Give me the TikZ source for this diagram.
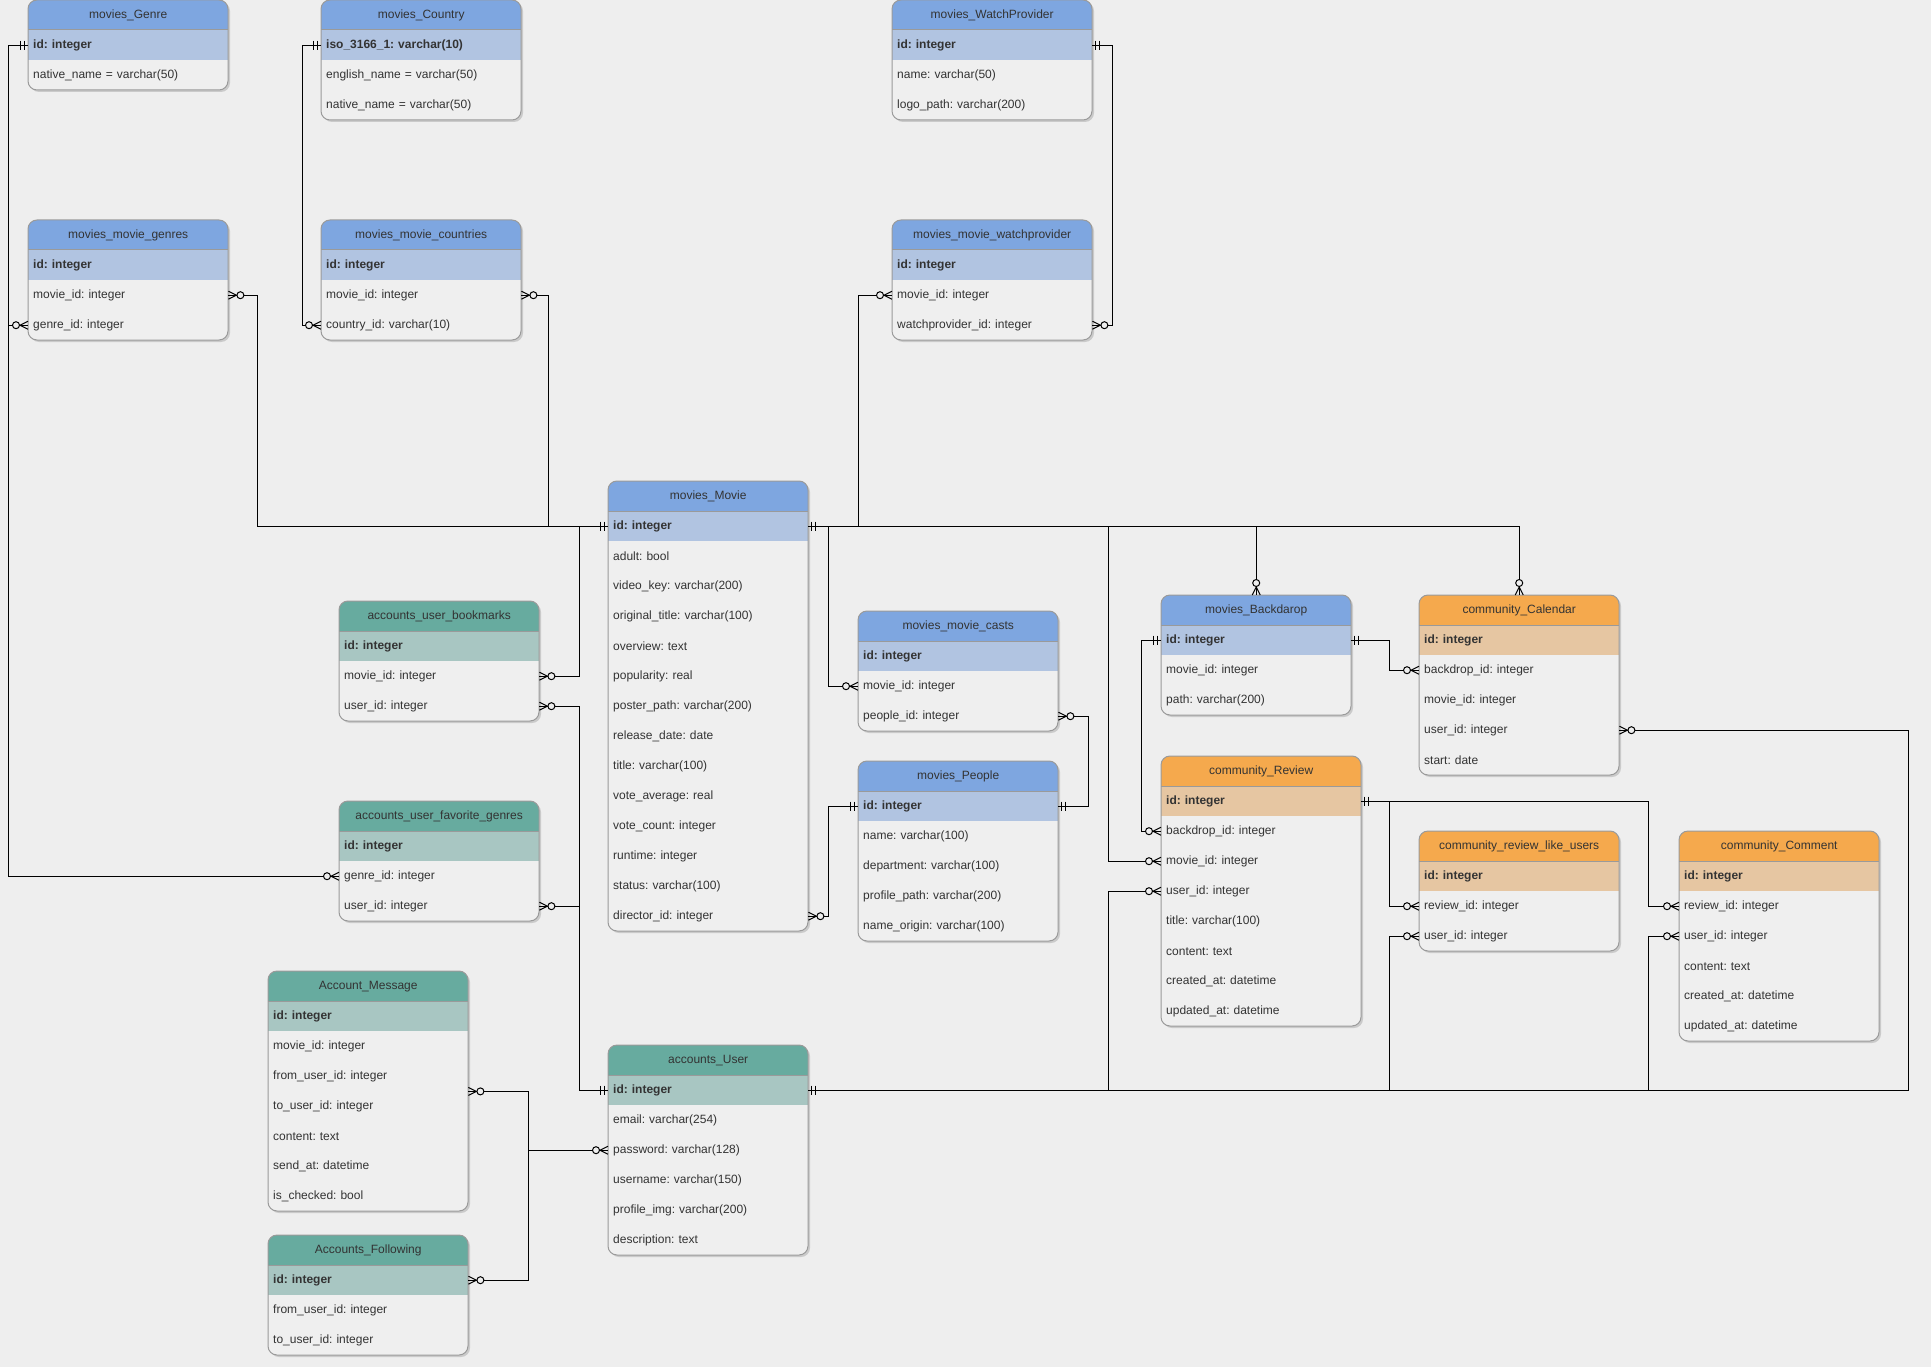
\documentclass[tikz,border=0pt]{standalone}
\usepackage{fontspec}
\setmainfont{Liberation Sans}
\frenchspacing
\usetikzlibrary{backgrounds, shadows}
\definecolor{bgc}{HTML}{EEEEEE}
\definecolor{tblfill}{HTML}{EFEFEF}
\definecolor{tblborder}{HTML}{9A9A9A}
\definecolor{txt}{HTML}{333333}
\definecolor{blueH}{HTML}{7EA6E0}
\definecolor{blueK}{HTML}{B1C4E1}
\definecolor{greenH}{HTML}{67AB9F}
\definecolor{greenK}{HTML}{A8C6C2}
\definecolor{orangeH}{HTML}{F5A94D}
\definecolor{orangeK}{HTML}{E6C6A2}
\tikzset{
  rel/.style    ={draw=black, line width=1pt},
  tblline/.style={draw=tblborder, line width=1pt},
  tblbody/.style={fill=tblfill, drop shadow={shadow xshift=2pt, shadow yshift=-2pt, opacity=0.15, fill=black}},
  ttl/.style    ={anchor=north west, minimum height=30pt, inner sep=0pt, text=txt, font=\fontsize{12pt}{14pt}\selectfont},
  fld/.style    ={anchor=north west, minimum height=30pt, inner xsep=5pt, inner ysep=0pt, align=left, text=txt, font=\fontsize{12pt}{14pt}\selectfont},
  keyfld/.style ={fld, font=\fontsize{12pt}{14pt}\selectfont\bfseries},
  bluehd/.style ={fill=blueH},   bluekey/.style ={fill=blueK},
  greenhd/.style={fill=greenH},  greenkey/.style={fill=greenK},
  orangehd/.style={fill=orangeH}, orangekey/.style={fill=orangeK},
  pics/erone/.style ={code={\draw[rel] (-3.5,-4.5) -- (-3.5,4.5) (-7.5,-4.5) -- (-7.5,4.5);}},
  pics/ermany/.style={code={\draw[rel] (0,-4) -- (-8,0) -- (0,4);
                            \draw[rel, fill=bgc] (-12,0) circle[radius=3.5];}},
}
% #1 name, #2 x, #3 y, #4 width, #5 colour, #6 title, #7 key field, #8 key/text fields
\newcommand{\ertable}[8]{%
  \foreach \fk/\ft [count=\rowi] in {#8} {\xdef\errows{\rowi}}
  \pgfmathsetmacro\erh{30*(\errows+2)}
  \pgfmathsetmacro\ertw{#4-10}
  \begin{scope}[on background layer]
    \fill[tblbody, rounded corners=9pt] (#2,#3) rectangle ++(#4,\erh);
  \end{scope}
  \begin{scope}
    \clip[rounded corners=9pt] (#2,#3) rectangle ++(#4,\erh);
    \fill[#5hd] (#2,#3) rectangle ++(#4,30);
    \fill[#5key] (#2,#3+30) rectangle ++(#4,30);
  \end{scope}
  \draw[tblline] (#2,#3+30) -- ++(#4,0);
  \draw[tblline, rounded corners=9pt] (#2,#3) rectangle ++(#4,\erh);
  \node[ttl, minimum width=#4pt] (#1) at (#2,#3) {#6};
  \node[keyfld, text width=\ertw pt] (#1-id) at (#2,#3+30) {#7};
  \foreach \fk/\ft [count=\rowi] in {#8}
    \node[fld, text width=\ertw pt] (#1-\fk) at (#2,#3+30+30*\rowi) {\ft};
}
\begin{document}
\begin{tikzpicture}[x=1pt, y=-1pt]
  \useasboundingbox (0,0) rectangle (1931,1367);
  \begin{scope}[on background layer]
    \fill[bgc] (0,0) rectangle (1931,1367);
  \end{scope}

  % movies
  \ertable{Genre}{28}{0}{200}{blue}{movies\_Genre}{id: integer}{name/native\_name = varchar(50)}
  \ertable{Country}{321}{0}{200}{blue}{movies\_Country}{iso\_3166\_1: varchar(10)}{english/english\_name = varchar(50), native/native\_name = varchar(50)}
  \ertable{WatchProvider}{892}{0}{200}{blue}{movies\_WatchProvider}{id: integer}{name/name: varchar(50), logo/logo\_path: varchar(200)}
  \ertable{mgenres}{28}{220}{200}{blue}{movies\_movie\_genres}{id: integer}{movie/movie\_id: integer, genre/genre\_id: integer}
  \ertable{mcountries}{321}{220}{200}{blue}{movies\_movie\_countries}{id: integer}{movie/movie\_id: integer, country/country\_id: varchar(10)}
  \ertable{mwatch}{892}{220}{200}{blue}{movies\_movie\_watchprovider}{id: integer}{movie/movie\_id: integer, wp/watchprovider\_id: integer}
  \ertable{Movie}{608}{481}{200}{blue}{movies\_Movie}{id: integer}{adult/adult: bool, video/video\_key: varchar(200), otitle/original\_title: varchar(100), overview/overview: text, popularity/popularity: real, poster/poster\_path: varchar(200), release/release\_date: date, title/title: varchar(100), vavg/vote\_average: real, vcount/vote\_count: integer, runtime/runtime: integer, status/status: varchar(100), director/director\_id: integer}
  \ertable{casts}{858}{611}{200}{blue}{movies\_movie\_casts}{id: integer}{movie/movie\_id: integer, people/people\_id: integer}
  \ertable{People}{858}{761}{200}{blue}{movies\_People}{id: integer}{name/name: varchar(100), dept/department: varchar(100), profile/profile\_path: varchar(200), origin/name\_origin: varchar(100)}
  \ertable{Backdrop}{1161}{595}{190}{blue}{movies\_Backdarop}{id: integer}{movie/movie\_id: integer, path/path: varchar(200)}

  % accounts
  \ertable{bookm}{339}{601}{200}{green}{accounts\_user\_bookmarks}{id: integer}{movie/movie\_id: integer, user/user\_id: integer}
  \ertable{favgenres}{339}{801}{200}{green}{accounts\_user\_favorite\_genres}{id: integer}{genre/genre\_id: integer, user/user\_id: integer}
  \ertable{Message}{268}{971}{200}{green}{Account\_Message}{id: integer}{movie/movie\_id: integer, from/from\_user\_id: integer, to/to\_user\_id: integer, content/content: text, send/send\_at: datetime, checked/is\_checked: bool}
  \ertable{Following}{268}{1235}{200}{green}{Accounts\_Following}{id: integer}{from/from\_user\_id: integer, to/to\_user\_id: integer}
  \ertable{User}{608}{1045}{200}{green}{accounts\_User}{id: integer}{email/email: varchar(254), password/password: varchar(128), username/username: varchar(150), profile/profile\_img: varchar(200), desc/description: text}

  % community
  \ertable{Calendar}{1419}{595}{200}{orange}{community\_Calendar}{id: integer}{backdrop/backdrop\_id: integer, movie/movie\_id: integer, user/user\_id: integer, start/start: date}
  \ertable{Review}{1161}{756}{200}{orange}{community\_Review}{id: integer}{backdrop/backdrop\_id: integer, movie/movie\_id: integer, user/user\_id: integer, title/title: varchar(100), content/content: text, created/created\_at: datetime, updated/updated\_at: datetime}
  \ertable{Like}{1419}{831}{200}{orange}{community\_review\_like\_users}{id: integer}{review/review\_id: integer, user/user\_id: integer}
  \ertable{Comment}{1679}{831}{200}{orange}{community\_Comment}{id: integer}{review/review\_id: integer, user/user\_id: integer, content/content: text, created/created\_at: datetime, updated/updated\_at: datetime}

  % relations
  \draw[rel] (Genre-id.west) -- ++(-20,0) |- (mgenres-genre.west);
  \draw[rel] (Genre-id.west) -- ++(-20,0) |- (favgenres-genre.west);
  \draw[rel] (Country-id.west) -- ++(-19,0) |- (mcountries-country.west);
  \draw[rel] (WatchProvider-id.east) -- ++(20,0) |- (mwatch-wp.east);
  \draw[rel] (mgenres-movie.east) -- ++(29,0) |- (Movie-id.west);
  \draw[rel] (mcountries-movie.east) -- ++(27,0) |- (Movie-id.west);
  \draw[rel] (mwatch-movie.west) -- ++(-34,0) |- (Movie-id.east);
  \draw[rel] (bookm-movie.east) -- ++(40,0) |- (Movie-id.west);
  \draw[rel] (Movie-id.east) -- ++(20,0) |- (casts-movie.west);
  \draw[rel] (Movie-director.east) -- ++(20,0) |- (People-id.west);
  \draw[rel] (casts-people.east) -- ++(30,0) |- (People-id.east);
  \draw[rel] (Review-movie.west) -- ++(-53,0) |- (Movie-id.east);
  \draw[rel] (Movie-id.east) -| (Backdrop.north);
  \draw[rel] (Movie-id.east) -| (Calendar.north);
  \draw[rel] (Backdrop-id.west) -- ++(-20,0) |- (Review-backdrop.west);
  \draw[rel] (Backdrop-id.east) -- ++(38,0) |- (Calendar-backdrop.west);
  \draw[rel] (Review-id.east) -- ++(28,0) |- (Like-review.west);
  \draw[rel] (Review-id.east) -- ++(287,0) |- (Comment-review.west);
  \draw[rel] (User-id.east) -- ++(1100,0) |- (Calendar-user.east);
  \draw[rel] (Review-user.west) -- ++(-53,0) |- (User-id.east);
  \draw[rel] (Like-user.west) -- ++(-30,0) |- (User-id.east);
  \draw[rel] (Comment-user.west) -- ++(-31,0) |- (User-id.east);
  \draw[rel] (bookm-user.east) -- ++(40,0) |- (User-id.west);
  \draw[rel] (favgenres-user.east) -- ++(40,0) |- (User-id.west);
  \draw[rel] (Message-from.south east) -- ++(60,0) |- (User-password.west);
  \draw[rel] (Following-id.east) -- ++(60,0) |- (User-password.west);

  % cardinality marks
  \pic at (Genre-id.west) {erone};
  \pic at (Country-id.west) {erone};
  \pic[xscale=-1] at (WatchProvider-id.east) {erone};
  \pic at (Movie-id.west) {erone};
  \pic[xscale=-1] at (Movie-id.east) {erone};
  \pic at (People-id.west) {erone};
  \pic[xscale=-1] at (People-id.east) {erone};
  \pic at (Backdrop-id.west) {erone};
  \pic[xscale=-1] at (Backdrop-id.east) {erone};
  \pic[xscale=-1] at (Review-id.east) {erone};
  \pic at (User-id.west) {erone};
  \pic[xscale=-1] at (User-id.east) {erone};
  \pic at (mgenres-genre.west) {ermany};
  \pic[xscale=-1] at (mgenres-movie.east) {ermany};
  \pic at (mcountries-country.west) {ermany};
  \pic[xscale=-1] at (mcountries-movie.east) {ermany};
  \pic at (mwatch-movie.west) {ermany};
  \pic[xscale=-1] at (mwatch-wp.east) {ermany};
  \pic[xscale=-1] at (Movie-director.east) {ermany};
  \pic at (casts-movie.west) {ermany};
  \pic[xscale=-1] at (casts-people.east) {ermany};
  \pic[xscale=-1] at (bookm-movie.east) {ermany};
  \pic[xscale=-1] at (bookm-user.east) {ermany};
  \pic at (favgenres-genre.west) {ermany};
  \pic[xscale=-1] at (favgenres-user.east) {ermany};
  \pic[rotate=-90] at (Backdrop.north) {ermany};
  \pic[rotate=-90] at (Calendar.north) {ermany};
  \pic at (Calendar-backdrop.west) {ermany};
  \pic[xscale=-1] at (Calendar-user.east) {ermany};
  \pic at (Review-backdrop.west) {ermany};
  \pic at (Review-movie.west) {ermany};
  \pic at (Review-user.west) {ermany};
  \pic at (Like-review.west) {ermany};
  \pic at (Like-user.west) {ermany};
  \pic at (Comment-review.west) {ermany};
  \pic at (Comment-user.west) {ermany};
  \pic[xscale=-1] at (Message-from.south east) {ermany};
  \pic[xscale=-1] at (Following-id.east) {ermany};
  \pic at (User-password.west) {ermany};
\end{tikzpicture}
\end{document}
